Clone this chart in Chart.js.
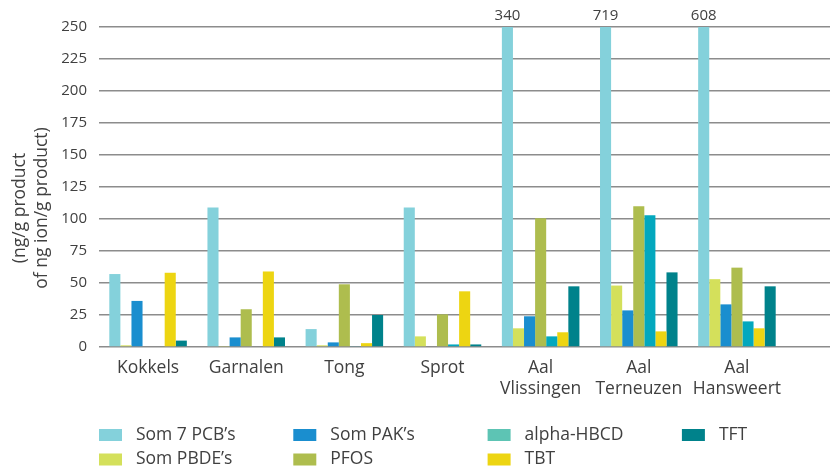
<!DOCTYPE html>
<html>
<head>
<meta charset="utf-8">
<script src="https://cdn.jsdelivr.net/npm/chart.js@4.4.0/dist/chart.umd.min.js"></script>
<style>
  html, body { margin: 0; padding: 0; background: #fff; }
  #wrap { width: 830px; height: 468px; position: relative; }
</style>
</head>
<body>
<div id="wrap"><canvas id="chart"></canvas></div>
<script>
// ----------------- Data -----------------
const categories = ['Kokkels', 'Garnalen', 'Tong', 'Sprot', ['Aal', 'Vlissingen'], ['Aal', 'Terneuzen'], ['Aal', 'Hansweert']];
const seriesNames = ['Som 7 PCB\u2019s', 'Som PBDE\u2019s', 'Som PAK\u2019s', 'PFOS', 'alpha-HBCD', 'TBT', 'TFT'];

const somPCB    = [57, 109, 14, 109, 340, 719, 608];
const somPBDE   = [1.3, 0.8, 1.3, 8.3, 14.6, 48, 53];
const somPAK    = [36, 7.5, 3.6, null, 24, 28.6, 33.3];
const pfos      = [null, 29.5, 49, 25.5, 100.5, 110, 62];
const alphaHBCD = [null, null, 0.5, 2, 8.3, 103, 20];
const tbt       = [58, 59, 3, 43.5, 11.5, 12.2, 14.6];
const tft       = [5, 7.5, 25, 2, 47.4, 58.3, 47.4];

const yMin = 0, yMax = 250, yStep = 25;
const yTitle = ['(ng/g product', 'of ng ion/g product)'];

// ----------------- Styles -----------------
const barColors    = ['#84d1db', '#d4e05b', '#1a8ecf', '#aebd4e', '#03a8be', '#edd512', '#00828b'];
const legendColors = ['#84d1db', '#d4e05b', '#1a8ecf', '#aebd4e', '#5dc4b4', '#edd512', '#00828b'];
const textColor = '#404040';
const gridColor = '#8c8c8c';
const fontFamily = '"Open Sans", "Noto Sans", sans-serif';
const textSize = 17.5;

const seriesValues = [somPCB, somPBDE, somPAK, pfos, alphaHBCD, tbt, tft];

// aligne comme Chart.js le fait pour les lignes de grille
function alignPx(px, w) {
  const h = w / 2;
  return Math.round(px - h) + h;
}

// ----------------- Plugin: grille prolongée, titre, valeurs hors échelle, légende -----------------
const extras = {
  id: 'extras',
  beforeDatasetsDraw(chart) {
    const {ctx, chartArea} = chart;
    const y = chart.scales.y;
    ctx.save();
    ctx.strokeStyle = gridColor;
    ctx.lineWidth = 1.5;
    y.ticks.forEach(t => {
      const py = alignPx(y.getPixelForValue(t.value), 1.5);
      ctx.beginPath();
      ctx.moveTo(chartArea.right, py);
      ctx.lineTo(chart.width, py);
      ctx.stroke();
    });
    ctx.restore();
  },
  afterDraw(chart) {
    const {ctx, chartArea} = chart;
    const y = chart.scales.y;
    ctx.save();
    ctx.fillStyle = textColor;

    // titre de l'axe y (deux lignes, tourné)
    ctx.font = textSize + 'px ' + fontFamily;
    ctx.textAlign = 'center';
    ctx.textBaseline = 'middle';
    yTitle.forEach((line, i) => {
      ctx.save();
      ctx.translate(20 + i * 22, 208);
      ctx.rotate(-Math.PI / 2);
      ctx.fillText(line, 0, 0);
      ctx.restore();
    });

    // valeurs au-dessus des barres coupées
    ctx.font = '15px ' + fontFamily;
    chart.data.datasets.forEach((ds, di) => {
      const meta = chart.getDatasetMeta(di);
      ds.data.forEach((v, i) => {
        if (v != null && v > y.max) {
          ctx.fillText(String(v), meta.data[i].x, chartArea.top - 11);
        }
      });
    });

    // légende en 4 colonnes, remplie colonne par colonne
    ctx.font = textSize + 'px ' + fontFamily;
    ctx.textAlign = 'left';
    chart.data.datasets.forEach((ds, i) => {
      const col = Math.floor(i / 2), row = i % 2;
      const x = 99 + col * 194.3;
      const cy = 435 + row * 24.5;
      ctx.fillStyle = ds.legendColor;
      ctx.fillRect(x, cy - 6, 23, 12);
      ctx.fillStyle = textColor;
      ctx.fillText(ds.label, x + 37, cy);
    });
    ctx.restore();
  }
};

const datasets = seriesNames.map((name, i) => ({
  label: name,
  data: seriesValues[i],
  backgroundColor: barColors[i],
  legendColor: legendColors[i],
  borderWidth: 0,
  barPercentage: 1,
  categoryPercentage: 0.79,
  clip: 0
}));

new Chart(document.getElementById('chart'), {
  type: 'bar',
  data: { labels: categories, datasets: datasets },
  options: {
    responsive: true,
    maintainAspectRatio: false,
    animation: false,
    layout: { padding: { top: 27, right: 44, left: 0, bottom: 0 } },
    plugins: { legend: { display: false }, tooltip: { enabled: false } },
    scales: {
      x: {
        grid: { display: false, drawTicks: false },
        border: { display: false },
        ticks: {
          color: textColor, padding: 10, maxRotation: 0, autoSkip: false,
          font: { family: fontFamily, size: textSize, lineHeight: 1.22 }
        },
        afterFit: s => { s.height = 121; }
      },
      y: {
        min: yMin, max: yMax,
        grid: { color: gridColor, lineWidth: 1.5, drawTicks: false },
        border: { display: false },
        ticks: {
          stepSize: yStep, color: textColor, padding: 12,
          font: { family: fontFamily, size: 15 }
        },
        afterFit: s => { s.width = 99; }
      }
    }
  },
  plugins: [extras]
});
</script>
</body>
</html>
